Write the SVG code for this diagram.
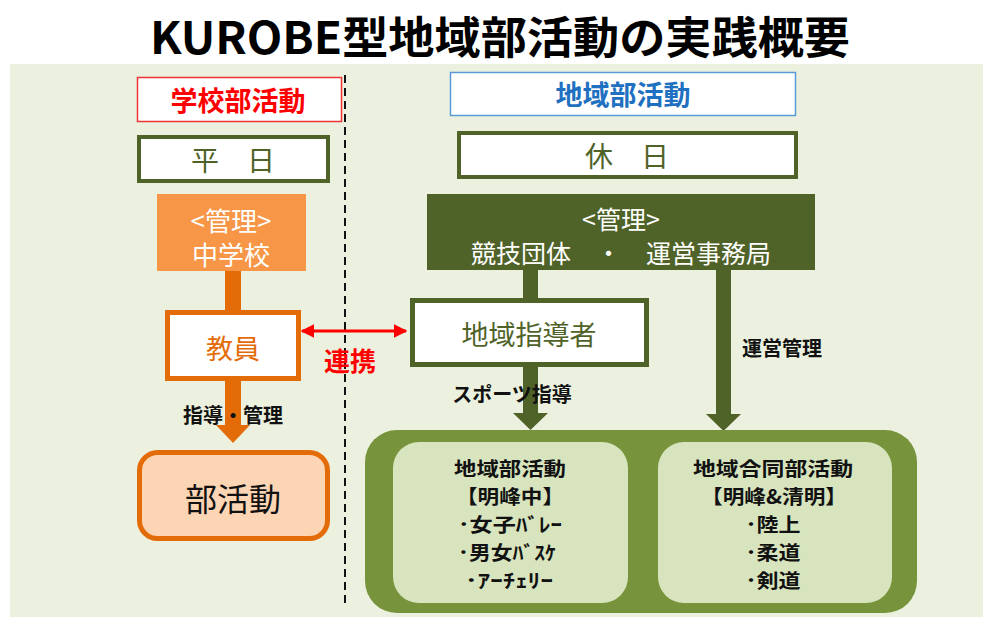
<svg xmlns="http://www.w3.org/2000/svg" width="1000" height="624" viewBox="0 0 1000 624">
<defs>
<style>
text{font-family:"Noto Sans CJK JP","Noto Sans",sans-serif;text-anchor:middle;dominant-baseline:central}
.b{font-weight:bold}
.lbl{font-size:20px;font-weight:bold;fill:#111}
.inner{font-size:19.5px;font-weight:bold;fill:#111}
.dk{fill:#4f6228}
.org{fill:#e36c09}
</style>
<marker id="ra" viewBox="0 0 10 10" refX="9" refY="5" markerWidth="4.5" markerHeight="4.5" orient="auto-start-reverse">
<path d="M0,0 L10,5 L0,10 z" fill="#ff0000"/>
</marker>
</defs>
<rect width="1000" height="624" fill="#ffffff"/>
<rect x="10" y="64" width="973" height="553" fill="#ebf1de"/>
<text x="500" y="35" class="b" font-size="44" fill="#000" textLength="700" lengthAdjust="spacingAndGlyphs">KUROBE型地域部活動の実践概要</text>

<g id="connectors">
<line x1="345" y1="75" x2="345" y2="604" stroke="#111" stroke-width="2" stroke-dasharray="8 5"/>
<rect x="225" y="270" width="16" height="42" class="org"/>
<rect x="225" y="378" width="16" height="48" class="org"/>
<polygon points="216,425 250,425 233,443" class="org"/>
<rect x="523" y="269" width="15" height="31" class="dk"/>
<rect x="523" y="364" width="15" height="50" class="dk"/>
<polygon points="513,413 548,413 530.5,430" class="dk"/>
<rect x="716" y="269" width="15" height="146" class="dk"/>
<polygon points="706,414 741,414 723.5,431" class="dk"/>
<line x1="302" y1="331" x2="406" y2="331" stroke="#ff0000" stroke-width="3" marker-start="url(#ra)" marker-end="url(#ra)"/>
<text x="350" y="359" class="b" font-size="26" fill="#ff0000">連携</text>
<text x="512" y="393" class="lbl">スポーツ指導</text>
<text x="782" y="347" class="lbl">運営管理</text>
<text x="233" y="414" class="lbl">指導・管理</text>
</g>

<g id="school-header">
<rect x="137.5" y="77.5" width="204" height="44" fill="#fff" stroke="#ee3333" stroke-width="1.5"/>
<text x="238" y="99" class="b" font-size="27" fill="#ff0000">学校部活動</text>
</g>
<g id="region-header">
<rect x="450.5" y="72.5" width="345" height="43" fill="#fff" stroke="#5b9bd5" stroke-width="1.5"/>
<text x="623" y="93" class="b" font-size="27" fill="#1f70c1">地域部活動</text>
</g>
<g id="weekday">
<rect x="139" y="137" width="189" height="44" fill="#fff" stroke="#4f6228" stroke-width="4"/>
<text x="233" y="159" font-size="28" fill="#4f6228">平　日</text>
</g>
<g id="holiday">
<rect x="459" y="133" width="337" height="44" fill="#fff" stroke="#4f6228" stroke-width="4"/>
<text x="627" y="155" font-size="28" fill="#4f6228">休　日</text>
</g>
<g id="school-mgmt">
<rect x="157" y="194" width="149" height="77" fill="#f79646"/>
<text x="231" y="219" font-size="26" fill="#fff">&lt;管理&gt;</text>
<text x="231" y="253" font-size="26" fill="#fff">中学校</text>
</g>
<g id="region-mgmt">
<rect x="427" y="194" width="388" height="76" fill="#4f6228"/>
<text x="621" y="218" font-size="25" fill="#fff">&lt;管理&gt;</text>
<text x="621" y="252" font-size="25" fill="#fff">競技団体　・　運営事務局</text>
</g>
<g id="teacher">
<rect x="167.5" y="312.5" width="131" height="66" fill="#fff" stroke="#e36c09" stroke-width="5"/>
<text x="233" y="347" font-size="27" fill="#e36c09">教員</text>
</g>
<g id="coach">
<rect x="412.5" y="300.5" width="234" height="64" fill="#fff" stroke="#4f6228" stroke-width="5"/>
<text x="529" y="333" font-size="27" fill="#4f6228">地域指導者</text>
</g>
<g id="club">
<rect x="139.5" y="452.5" width="188" height="86" rx="18" fill="#fcd5b5" stroke="#e36c09" stroke-width="5"/>
<text x="233" y="497" font-size="32" fill="#111">部活動</text>
</g>
<g id="region-clubs">
<rect x="365" y="430" width="552" height="183" rx="32" fill="#77933c"/>
<g id="club-meiho">
<rect x="393" y="442" width="235" height="161" rx="26" fill="#d7e4bd"/>
<text x="510" y="467" class="inner" textLength="112" lengthAdjust="spacingAndGlyphs">地域部活動</text>
<text x="510" y="495" class="inner" textLength="108" lengthAdjust="spacingAndGlyphs">【明峰中】</text>
<text x="510" y="523" class="inner" textLength="104" lengthAdjust="spacingAndGlyphs">･女子ﾊﾞﾚｰ</text>
<text x="507" y="551" class="inner" textLength="98" lengthAdjust="spacingAndGlyphs">･男女ﾊﾞｽｹ</text>
<text x="509" y="579" class="inner" textLength="88" lengthAdjust="spacingAndGlyphs">･ｱｰﾁｪﾘｰ</text>
</g>
<g id="club-joint">
<rect x="658" y="442" width="234" height="161" rx="26" fill="#d7e4bd"/>
<text x="773" y="467" class="inner" textLength="160" lengthAdjust="spacingAndGlyphs">地域合同部活動</text>
<text x="774" y="495" class="inner" textLength="146" lengthAdjust="spacingAndGlyphs">【明峰&amp;清明】</text>
<text x="773" y="523" class="inner" textLength="55" lengthAdjust="spacingAndGlyphs">･陸上</text>
<text x="773" y="551" class="inner" textLength="55" lengthAdjust="spacingAndGlyphs">･柔道</text>
<text x="773" y="579" class="inner" textLength="55" lengthAdjust="spacingAndGlyphs">･剣道</text>
</g>
</g>
</svg>
